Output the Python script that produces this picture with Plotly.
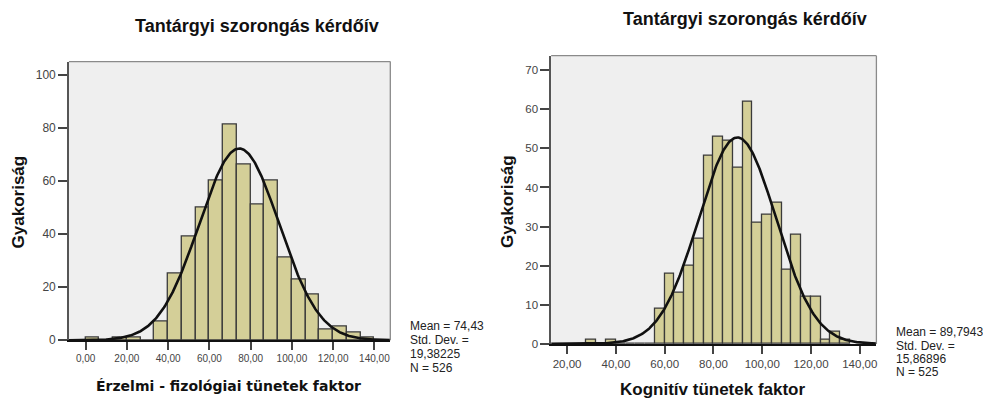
import numpy as np
import plotly.graph_objects as go

# ---- data -------------------------------------------------------------
title_text = "Tantárgyi szorongás kérdőív"
y_title = "Gyakoriság"

# Érzelmi - fizológiai tünetek faktor: bins of width 20/3 starting at 0
emo_start = 0.0
emo_width = 20.0 / 3.0
emo_counts = [1, 0, 1, 1, 0, 7, 25, 39, 50, 60, 81, 66, 51, 60, 31, 23, 17, 4, 5, 3, 1]
emo_mean, emo_sd, emo_n = 74.43, 19.38225, 526
emo_stats = ["Mean = 74,43", "Std. Dev. =", "19,38225", "N = 526"]
emo_xlabel = "Érzelmi - fizológiai tünetek faktor"

# Kognitív tünetek faktor: bins of width 4 starting at 28
cog_start = 28.0
cog_width = 4.0
cog_counts = [1, 0, 1, 0, 0, 0, 0, 9, 18, 13, 20, 27, 48, 53, 52, 45, 62,
              31, 33, 36, 19, 28, 12, 12, 1, 3, 1]
cog_mean, cog_sd, cog_n = 89.7943, 15.86896, 525
cog_stats = ["Mean = 89,7943", "Std. Dev. =", "15,86896", "N = 525"]
cog_xlabel = "Kognitív tünetek faktor"

x_ticks = [0, 20, 40, 60, 80, 100, 120, 140]
x_ticktext = ["0,00", "20,00", "40,00", "60,00", "80,00", "100,00", "120,00", "140,00"]
cog_x_ticks = [20, 40, 60, 80, 100, 120, 140]
cog_x_ticktext = ["20,00", "40,00", "60,00", "80,00", "100,00", "120,00", "140,00"]
emo_y_ticks = [0, 20, 40, 60, 80, 100]
cog_y_ticks = [0, 10, 20, 30, 40, 50, 60, 70]

# ---- styling ----------------------------------------------------------
W, H = 983, 401
BAR_FILL = "#D4CF98"
BAR_EDGE = "#3a3a3a"
PLOT_BG = "#EFEFEF"
FONT = "Liberation Sans, Arial, sans-serif"
WIDE_FONT = "DejaVu Sans, Liberation Sans, sans-serif"

emo_xrange = [-8.1, 147.7]
cog_xrange = [13.45, 146.8]
emo_yrange = [0, 104.9]
cog_yrange = [0, 73.7]


def px_x(p):
    return p / W


def px_y(p):
    return 1 - p / H


def normal_curve(mean, sd, n, width, xr):
    xs = np.linspace(xr[0], xr[1], 400)
    ys = n * width * np.exp(-0.5 * ((xs - mean) / sd) ** 2) / (sd * np.sqrt(2 * np.pi))
    return xs, ys


fig = go.Figure()

for counts, start, width, mean, sd, n, xr, xa, ya in [
    (emo_counts, emo_start, emo_width, emo_mean, emo_sd, emo_n, emo_xrange, "x", "y"),
    (cog_counts, cog_start, cog_width, cog_mean, cog_sd, cog_n, cog_xrange, "x2", "y2"),
]:
    centers = [start + width * (i + 0.5) for i in range(len(counts))]
    fig.add_trace(go.Bar(
        x=centers, y=counts, width=width,
        marker=dict(color=BAR_FILL, line=dict(color=BAR_EDGE, width=1.3)),
        xaxis=xa, yaxis=ya, showlegend=False, hoverinfo="skip",
    ))
    cx, cy = normal_curve(mean, sd, n, width, xr)
    fig.add_trace(go.Scatter(
        x=cx, y=cy, mode="lines", line=dict(color="#111111", width=2.6),
        xaxis=xa, yaxis=ya, showlegend=False, hoverinfo="skip", cliponaxis=True,
    ))

axis_common = dict(
    showgrid=False, zeroline=False, showline=True, ticks="outside",
    tickwidth=1.5, tickcolor="#444444", fixedrange=True,
)

fig.update_layout(
    width=W, height=H,
    margin=dict(l=0, r=0, t=0, b=0),
    paper_bgcolor="white",
    plot_bgcolor=PLOT_BG,
    bargap=0,
    font=dict(family=FONT, color="#333333"),
    xaxis=dict(domain=[px_x(69), px_x(390.7)], range=emo_xrange, anchor="y",
               tickvals=x_ticks, ticktext=x_ticktext, ticklen=8,
               tickfont=dict(size=10, color="#444444"),
               linecolor="#111111", linewidth=2, **axis_common),
    yaxis=dict(domain=[px_y(346.3), px_y(62.7)], range=emo_yrange, anchor="x",
               tickvals=emo_y_ticks, ticklen=9,
               tickfont=dict(size=12, color="#444444"),
               linecolor="#555555", linewidth=1.5, **axis_common),
    xaxis2=dict(domain=[px_x(551.7), px_x(877.3)], range=cog_xrange, anchor="y2",
                tickvals=cog_x_ticks, ticktext=cog_x_ticktext, ticklen=8,
                tickfont=dict(size=11.5, color="#444444"),
                linecolor="#111111", linewidth=2, **axis_common),
    yaxis2=dict(domain=[px_y(350), px_y(56.7)], range=cog_yrange, anchor="x2",
                tickvals=cog_y_ticks, ticklen=9,
                tickfont=dict(size=11.5, color="#444444"),
                linecolor="#555555", linewidth=1.5, **axis_common),
)

# plot frames (top and right edges)
for xr_, yr_ in [("x domain", "y domain"), ("x2 domain", "y2 domain")]:
    fig.add_shape(type="line", xref=xr_, yref=yr_, x0=0, x1=1, y0=1, y1=1,
                  line=dict(color="#8a8a8a", width=1.3))
    fig.add_shape(type="line", xref=xr_, yref=yr_, x0=1, x1=1, y0=0, y1=1,
                  line=dict(color="#8a8a8a", width=1.3))

anns = []


def text(x, y, s, size, bold=False, angle=0, xanchor="center", color="#111111",
         family=FONT):
    anns.append(dict(
        x=px_x(x), y=px_y(y), xref="paper", yref="paper",
        text=f"<b>{s}</b>" if bold else s, showarrow=False,
        xanchor=xanchor, yanchor="middle", textangle=angle,
        font=dict(family=family, size=size, color=color),
    ))


# titles
text(257.7, 26, title_text, 18, bold=True)
text(746, 19, title_text, 18, bold=True)

# axis titles
text(229, 393, emo_xlabel, 14, bold=True, family=WIDE_FONT)
text(714, 396, cog_xlabel, 17, bold=True)
text(18, 205, y_title, 17, bold=True, angle=-90)
text(508, 205, y_title, 17, bold=True, angle=-90)

# statistics blocks
for i, line in enumerate(emo_stats):
    text(408, 332 + i * 14.2, line, 12, xanchor="left", color="#222222")
for i, line in enumerate(cog_stats):
    text(895, 338 + i * 13.7, line, 12, xanchor="left", color="#222222")

fig.update_layout(annotations=anns)

fig.write_html("out.html")
